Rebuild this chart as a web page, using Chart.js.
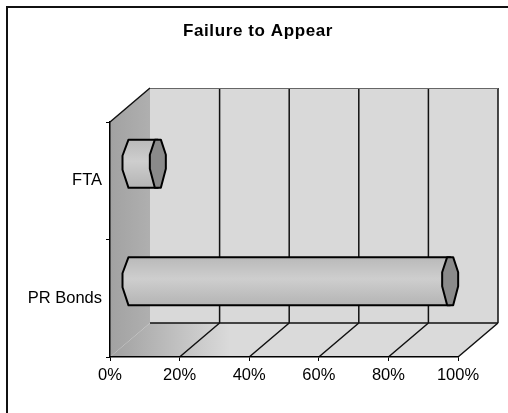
<!DOCTYPE html>
<html>
<head>
<meta charset="utf-8">
<script src="https://cdn.jsdelivr.net/npm/chart.js@4"></script>
<style>
  html, body { margin: 0; padding: 0; background: #fff; }
  canvas { display: block; }
</style>
</head>
<body>
<canvas id="fta_chart" width="508" height="413"></canvas>
<script>
//Data
const categories = ["FTA", "PR Bonds"];
const shares = [8, 92];
const tickValues = [0, 20, 40, 60, 80, 100];
const chartTitle = "Failure to Appear";

//depth of the 3d box (back wall offset)
const DX = 40, DY = -34;

//------------------------------------------

//3d walls, floor and gridlines, drawn under the axes
const box3d = {
  id: 'box3d',
  beforeDraw(chart) {
    const {ctx, chartArea: {left: L, right: R, top: T, bottom: B}} = chart;
    const xs = chart.scales.x;
    ctx.save();
    ctx.fillStyle = '#fff';
    ctx.fillRect(0, 0, chart.width, chart.height);

    //frame round the page
    ctx.strokeStyle = '#111';
    ctx.lineWidth = 2;
    ctx.beginPath();
    ctx.moveTo(7, chart.height);
    ctx.lineTo(7, 7);
    ctx.lineTo(chart.width, 7);
    ctx.stroke();

    //back wall
    ctx.fillStyle = '#d9d9d9';
    ctx.fillRect(L + DX, T + DY, R - L, B - T);

    //left wall
    const lg = ctx.createLinearGradient(L, 0, L + DX + 10, 0);
    lg.addColorStop(0, '#a2a2a2');
    lg.addColorStop(0.85, '#b0b0b0');
    lg.addColorStop(1, '#cfcfcf');
    ctx.fillStyle = lg;
    ctx.beginPath();
    ctx.moveTo(L, T); ctx.lineTo(L + DX, T + DY); ctx.lineTo(L + DX, B + DY); ctx.lineTo(L, B);
    ctx.closePath(); ctx.fill();

    //floor
    const fg = ctx.createLinearGradient(L, 0, L + 120, 0);
    fg.addColorStop(0, '#a0a0a0');
    fg.addColorStop(1, '#dadada');
    ctx.fillStyle = fg;
    ctx.beginPath();
    ctx.moveTo(L, B); ctx.lineTo(R, B); ctx.lineTo(R + DX, B + DY); ctx.lineTo(L + DX, B + DY);
    ctx.closePath(); ctx.fill();

    //gridlines on back wall and floor
    ctx.strokeStyle = '#111';
    ctx.lineWidth = 1.5;
    tickValues.forEach(v => {
      if (v === 0) return;
      const px = xs.getPixelForValue(v);
      ctx.beginPath();
      ctx.moveTo(px + DX, T + DY); ctx.lineTo(px + DX, B + DY);
      ctx.moveTo(px, B); ctx.lineTo(px + DX, B + DY);
      ctx.stroke();
    });
    ctx.beginPath();
    ctx.moveTo(L + DX, B + DY); ctx.lineTo(R + DX, B + DY);
    ctx.moveTo(L, T); ctx.lineTo(L + DX, T + DY);
    ctx.stroke();
    ctx.strokeStyle = '#666';
    ctx.lineWidth = 1;
    ctx.beginPath();
    ctx.moveTo(L + DX, T + DY + 0.5); ctx.lineTo(R + DX, T + DY + 0.5);
    ctx.stroke();
    ctx.restore();
  },

  //cylinder-like bars at mid depth
  afterDatasetsDraw(chart) {
    const {ctx} = chart;
    const meta = chart.getDatasetMeta(0);
    ctx.save();
    ctx.lineJoin = 'round';
    ctx.strokeStyle = '#000';
    ctx.lineWidth = 2;
    meta.data.forEach(el => {
      const {x, y, base, height} = el.getProps(['x', 'y', 'base', 'height'], true);
      const rx = x + DX / 2, lx = base + DX / 2, cy = y + DY / 2;
      const top = cy - height / 2, bot = cy + height / 2;

      const bg = ctx.createLinearGradient(0, top, 0, bot);
      bg.addColorStop(0, '#b9b9b9');
      bg.addColorStop(0.45, '#cecece');
      bg.addColorStop(1, '#b4b4b4');
      ctx.fillStyle = bg;
      ctx.beginPath();
      ctx.moveTo(lx - 2, top); ctx.lineTo(rx, top); ctx.lineTo(rx, bot); ctx.lineTo(lx - 2, bot);
      ctx.lineTo(lx - 8, cy + 6); ctx.lineTo(lx - 8, cy - 8);
      ctx.closePath(); ctx.fill(); ctx.stroke();

      ctx.fillStyle = '#8a8a8a';
      ctx.beginPath();
      ctx.moveTo(rx - 3, top); ctx.lineTo(rx + 3, top); ctx.lineTo(rx + 8, cy - 9); ctx.lineTo(rx + 8, cy + 5);
      ctx.lineTo(rx + 3, bot); ctx.lineTo(rx - 3, bot); ctx.lineTo(rx - 8, cy + 5); ctx.lineTo(rx - 8, cy - 9);
      ctx.closePath(); ctx.fill(); ctx.stroke();
    });
    ctx.restore();
  },

  //title, centred over the whole frame
  afterDraw(chart) {
    const {ctx} = chart;
    ctx.save();
    ctx.font = "bold 17px 'Liberation Sans', Arial, sans-serif";
    ctx.letterSpacing = '0.6px';
    ctx.fillStyle = '#000';
    ctx.textAlign = 'center';
    ctx.textBaseline = 'middle';
    ctx.fillText(chartTitle, 258, 31);
    ctx.restore();
  }
};

//------------------------------------------

const data1 = {
  labels: categories,
  datasets: [{label: "Share", data: shares, backgroundColor: "rgba(0,0,0,0)", borderWidth: 0, barPercentage: 0.41, categoryPercentage: 1}]
};

const fnt = {family: "'Liberation Sans', Arial, sans-serif", size: 16.5};

const config1 = {
  type: 'bar',
  data: data1,
  options: {
    indexAxis: 'y',
    responsive: false,
    animation: false,
    devicePixelRatio: 1,
    layout: {padding: {left: 0, right: 50, top: 122, bottom: 0}},
    plugins: {
      legend: {display: false},
      tooltip: {enabled: false},
      title: {display: false}
    },
    scales: {
      x: {
        min: 0, max: 100,
        afterFit: s => { s.height = 56; },
        afterBuildTicks: s => { s.ticks = tickValues.map(v => ({value: v})); },
        ticks: {callback: v => v + '%', color: '#000', font: fnt, padding: 5, maxRotation: 0},
        grid: {drawOnChartArea: false, drawTicks: true, tickLength: 4, color: '#000'},
        border: {color: '#000', width: 1.5}
      },
      y: {
        afterFit: s => { s.width = 110; },
        ticks: {color: '#000', font: fnt, padding: 4},
        grid: {drawOnChartArea: false, drawTicks: true, tickLength: 4, color: '#000', offset: true},
        border: {color: '#000', width: 1.5}
      }
    }
  },
  plugins: [box3d]
};

//Render
const fta_chart = new Chart(document.getElementById("fta_chart"), config1);
</script>
</body>
</html>
